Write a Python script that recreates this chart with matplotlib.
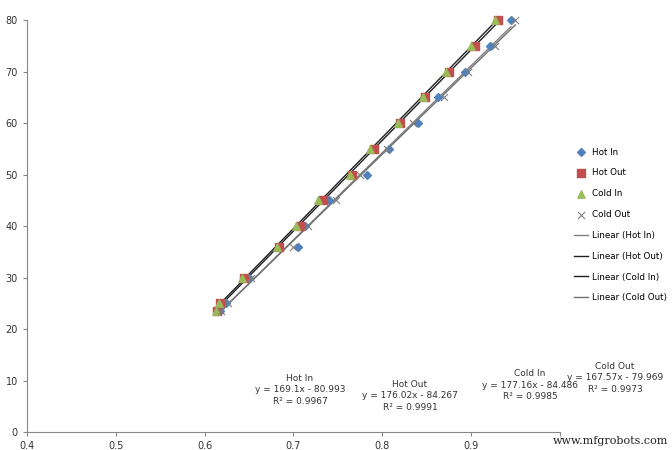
import numpy as np
import matplotlib
matplotlib.use("Agg")
import matplotlib.pyplot as plt

y_vals = [23.5, 25, 30, 36, 40, 45, 50, 55, 60, 65, 70, 75, 80]
hot_in_x = [0.617, 0.624, 0.650, 0.705, 0.713, 0.740, 0.783, 0.808, 0.840, 0.863, 0.893, 0.921, 0.945]
hot_out_x = [0.614, 0.618, 0.645, 0.684, 0.707, 0.733, 0.766, 0.791, 0.820, 0.848, 0.875, 0.905, 0.930]
cold_in_x = [0.613, 0.616, 0.642, 0.682, 0.703, 0.728, 0.764, 0.786, 0.818, 0.846, 0.872, 0.900, 0.927]
cold_out_x = [0.619, 0.626, 0.652, 0.700, 0.716, 0.748, 0.775, 0.806, 0.835, 0.870, 0.897, 0.927, 0.950]
names = ["Hot In", "Hot Out", "Cold In", "Cold Out"]
eqs = ["y = 169.1x - 80.993\nR² = 0.9967", "y = 176.02x - 84.267\nR² = 0.9991",
       "y = 177.16x - 84.486\nR² = 0.9985", "y = 167.57x - 79.969\nR² = 0.9973"]

fig = plt.figure(figsize=(6.72, 4.5), dpi=100)
ax = fig.add_axes([0.04, 0.04, 0.793, 0.915])
series = [hot_in_x, hot_out_x, cold_in_x, cold_out_x]
mstyle = [dict(marker="D", color="#4f81bd", s=16), dict(marker="s", color="#c0504d", s=26),
          dict(marker="^", color="#9bbb59", s=28), dict(marker="x", color="#7f7f7f", s=26, linewidths=0.8)]
lcols = ["#808080", "#202020", "#202020", "#707070"]
handles_m, handles_l = [], []
for xs, nm, ms in zip(series, names, mstyle):
    h = ax.scatter(xs, y_vals, label=nm, zorder=3, clip_on=False, **ms)
    handles_m.append(h)
for xs, nm, lc in zip(series, names, lcols):
    k, b = np.polyfit(xs, y_vals, 1)
    xr = np.array([min(xs), max(xs)])
    h, = ax.plot(xr, k * xr + b, color=lc, lw=1.0, label=f"Linear ({nm})", zorder=2)
    handles_l.append(h)

ax.set_xlim(0.4, 1.0)
ax.set_ylim(0, 80)
ax.set_xticks([0.4, 0.5, 0.6, 0.7, 0.8, 0.9, 1.0])
ax.set_xticklabels(["0.4", "0.5", "0.6", "0.7", "0.8", "0.9", ""])
ax.set_yticks(range(0, 81, 10))
for s in ["top", "right"]:
    ax.spines[s].set_visible(False)
for s in ["left", "bottom"]:
    ax.spines[s].set_color("#868686")
ax.tick_params(labelsize=7, colors="#333333", length=3, color="#868686")

tpos = [(300, 390), (410, 396), (530, 385), (615, 378)]
for (px, py), nm, eq in zip(tpos, names, eqs):
    fig.text(px / 672, 1 - py / 450, nm + "\n" + eq, ha="center", va="center",
             fontsize=6.5, color="#333333", linespacing=1.4)

fig.legend(handles=handles_m + handles_l, loc="center left", bbox_to_anchor=(0.847, 0.5),
           frameon=False, fontsize=6.3, labelspacing=1.35, handlelength=1.6,
           handletextpad=0.5, borderpad=0, scatterpoints=1)
fig.text(0.995, 0.01, "www.mfgrobots.com", ha="right", va="bottom", fontsize=8,
         family="DejaVu Serif", color="#222222")
fig.savefig("out.png", dpi=100)
